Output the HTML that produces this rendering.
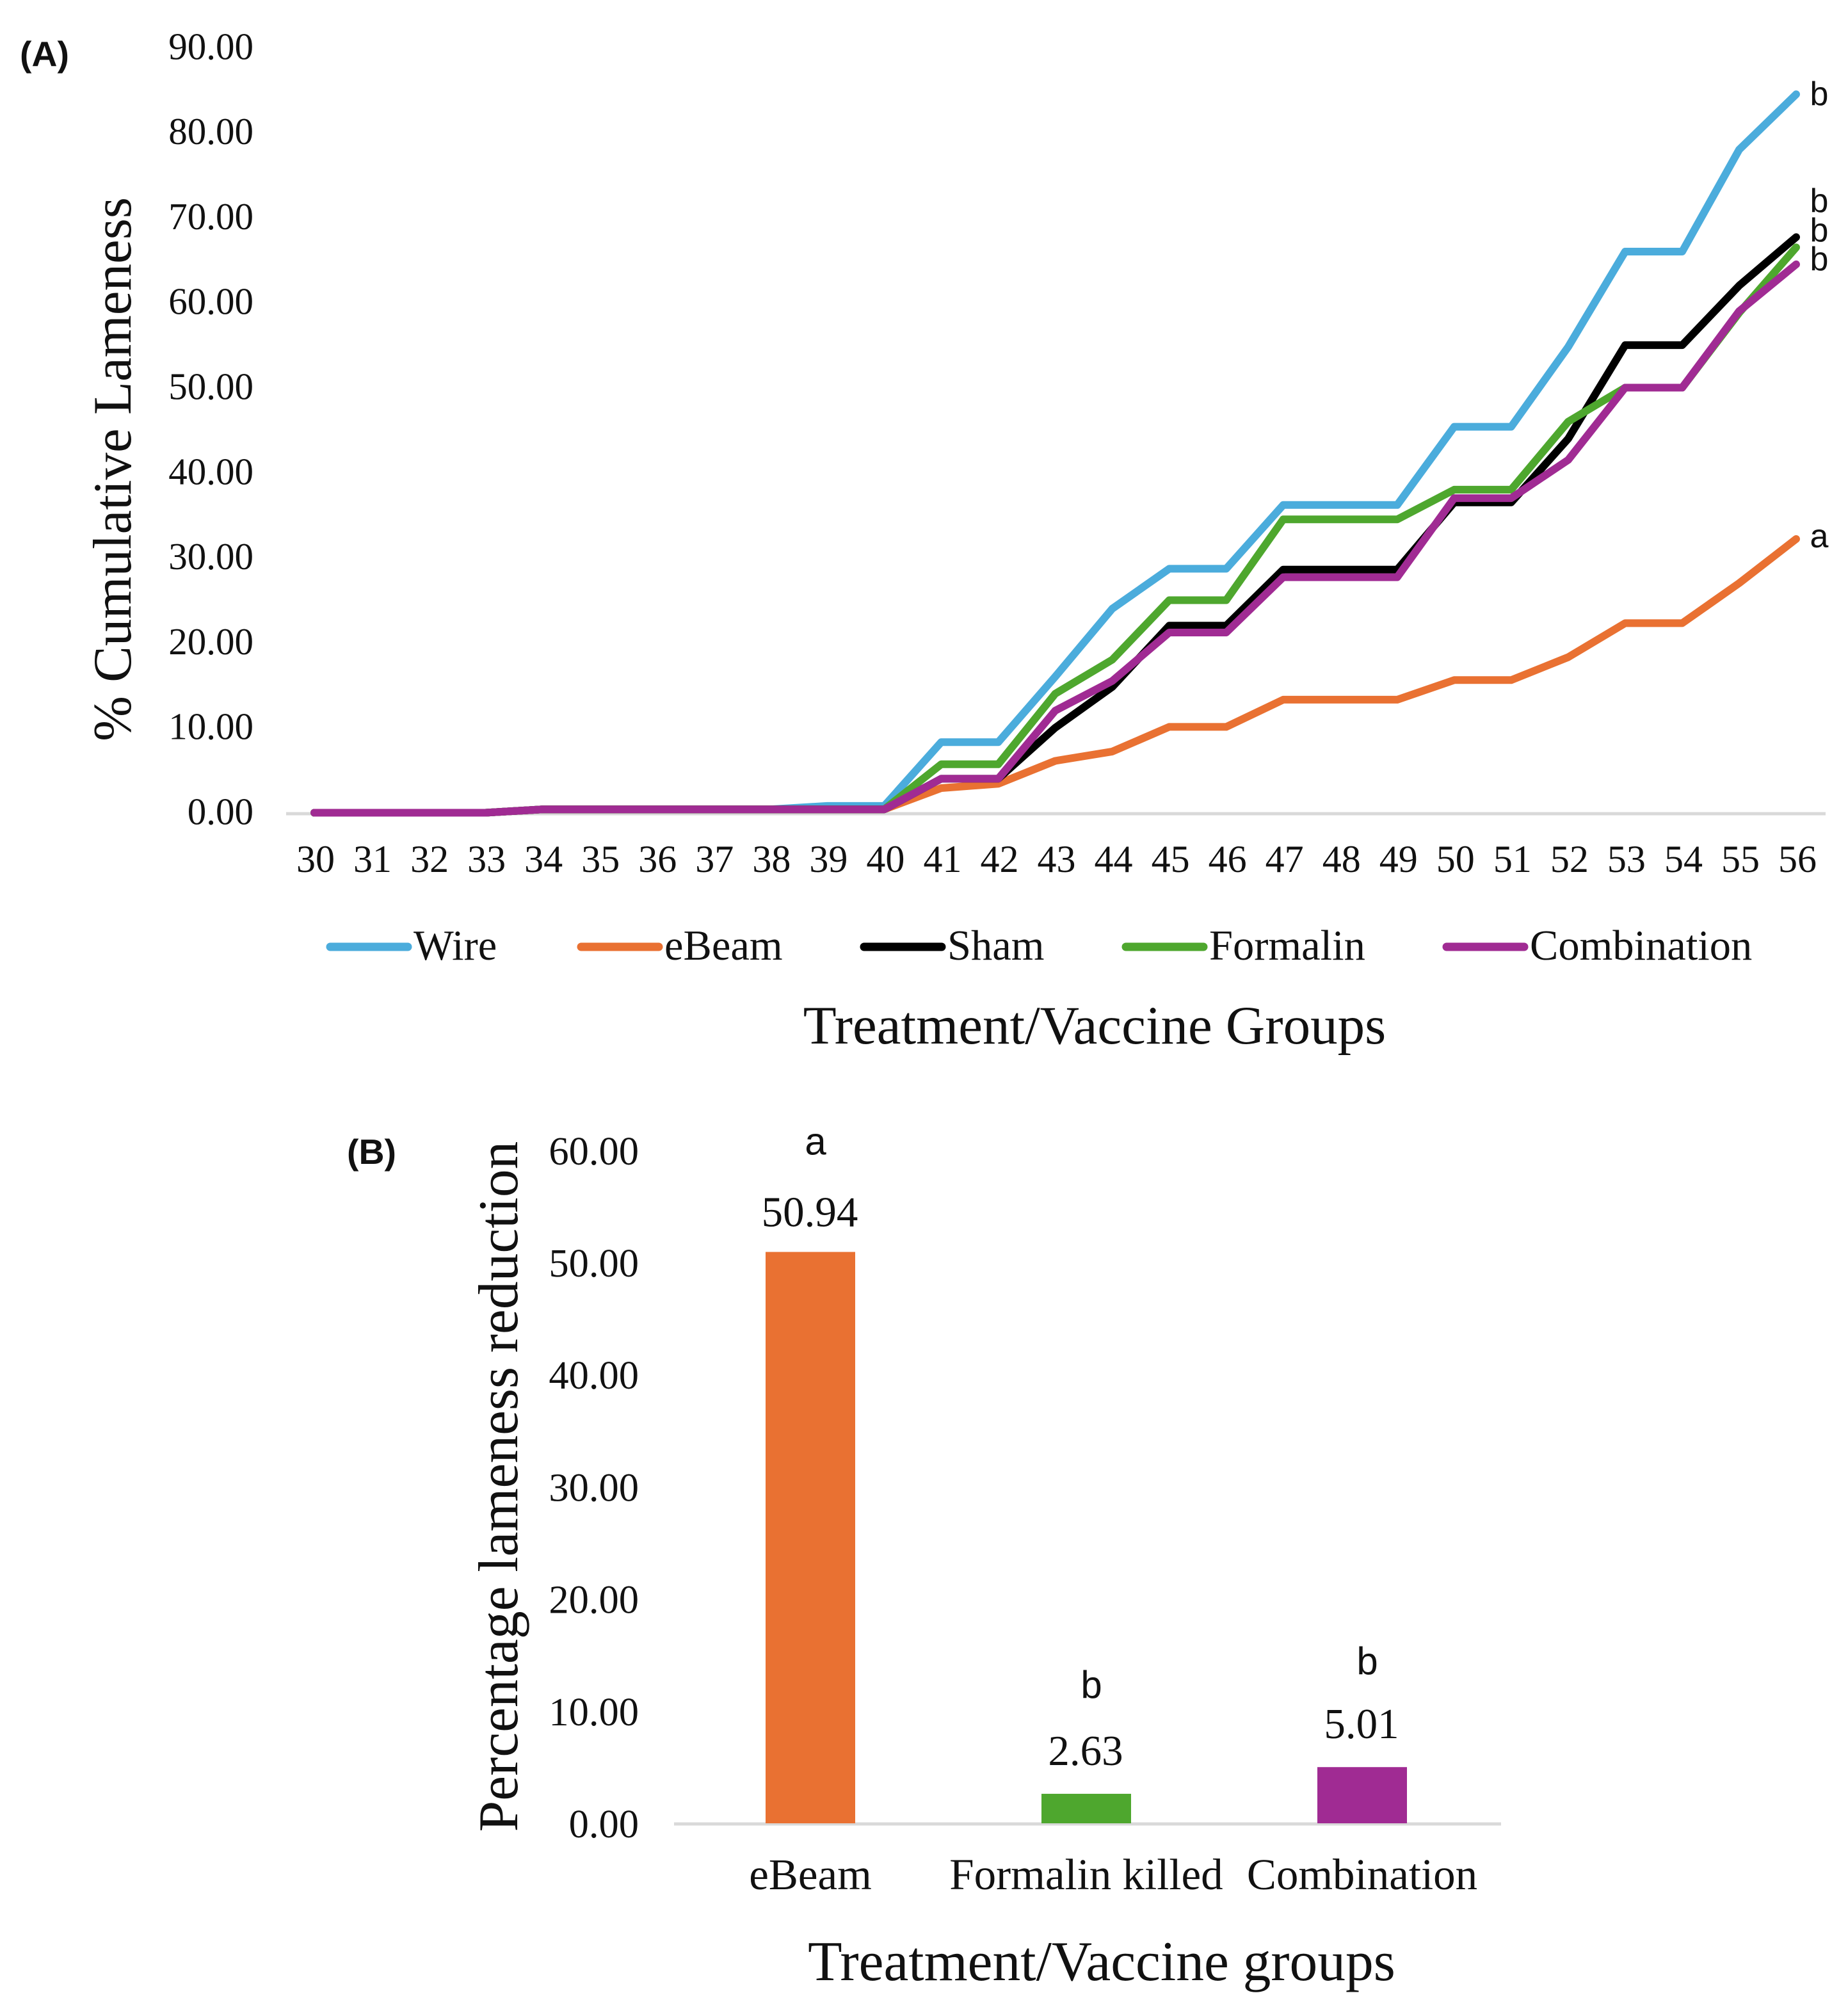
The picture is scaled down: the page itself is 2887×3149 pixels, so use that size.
<!DOCTYPE html>
<html lang="en">
<head>
<meta charset="utf-8">
<title>Cumulative lameness and lameness reduction charts</title>
<style>
html,body{margin:0;padding:0;background:#fff;}
svg{display:block;}
text{font-family:"Liberation Serif",serif;fill:#111;}
.sans{font-family:"Liberation Sans",sans-serif;}
</style>
</head>
<body>
<svg id="fig" xmlns="http://www.w3.org/2000/svg" width="2887" height="3149" viewBox="0 0 2887 3149">
  <rect width="2887" height="3149" fill="#fff"/>
  <text class="sans" x="31" y="103" font-size="55" font-weight="bold" textLength="77" lengthAdjust="spacingAndGlyphs">(A)</text>
  <text class="sans" x="542" y="1818" font-size="55" font-weight="bold" textLength="77" lengthAdjust="spacingAndGlyphs">(B)</text>
  <text transform="translate(204 733) rotate(-90)" text-anchor="middle" font-size="85">% Cumulative Lameness</text>
  <text x="1710" y="1630" text-anchor="middle" font-size="85">Treatment/Vaccine Groups</text>
  <text transform="translate(808 2322) rotate(-90)" text-anchor="middle" font-size="87.5">Percentage lameness reduction</text>
  <text x="1721" y="3093" text-anchor="middle" font-size="87.5">Treatment/Vaccine groups</text>
  <g id="chartA"></g>
  <g id="chartB"></g>
</svg>
<script>
// ---- Chart A data ----
var days = [30,31,32,33,34,35,36,37,38,39,40,41,42,43,44,45,46,47,48,49,50,51,52,53,54,55,56];
var yTicksA = ["0.00","10.00","20.00","30.00","40.00","50.00","60.00","70.00","80.00","90.00"];
var yTickValuesA = [0,10,20,30,40,50,60,70,80,90];
var wire = [0,0,0,0,0.4,0.4,0.4,0.4,0.4,0.8,0.8,8.3,8.3,16,24,28.7,28.7,36.2,36.2,36.2,45.4,45.4,54.8,66,66,78,84.5];
var eBeam = [0,0,0,0,0.4,0.4,0.4,0.4,0.4,0.4,0.4,2.9,3.4,6.1,7.2,10.1,10.1,13.3,13.3,13.3,15.6,15.6,18.3,22.3,22.3,27,32.2];
var sham = [0,0,0,0,0.4,0.4,0.4,0.4,0.4,0.4,0.4,4,4,10,14.8,22,22,28.6,28.6,28.6,36.5,36.5,44,55,55,62,67.7];
var formalin = [0,0,0,0,0.4,0.4,0.4,0.4,0.4,0.4,0.4,5.7,5.7,14,18,25,25,34.5,34.5,34.5,38,38,46,50,50,58.8,66.5];
var combination = [0,0,0,0,0.4,0.4,0.4,0.4,0.4,0.4,0.4,4,4,12,15.5,21.2,21.2,27.7,27.7,27.7,37,37,41.5,50,50,59,64.5];
var seriesNames = ["Wire","eBeam","Sham","Formalin","Combination"];
var endLetters = ["b","a","b","b","b"];

// ---- Chart B data ----
var groups = ["eBeam","Formalin killed","Combination"];
var reduction = [50.94,2.63,5.01];
var reductionLabels = ["50.94","2.63","5.01"];
var reductionLetters = ["a","b","b"];
var yTicksB = ["0.00","10.00","20.00","30.00","40.00","50.00","60.00"];
var yTickValuesB = [0,10,20,30,40,50,60];

var NS = "http://www.w3.org/2000/svg";
function make(parent, tag, attrs, txt) {
  var el = document.createElementNS(NS, tag);
  for (var k in attrs) el.setAttribute(k, attrs[k]);
  if (txt !== undefined) el.textContent = txt;
  parent.appendChild(el);
  return el;
}

// ---- Chart A ----
(function () {
  var g = document.getElementById("chartA");
  var seriesValues = [wire, eBeam, sham, formalin, combination];
  var colors = ["#4bacdc", "#e97132", "#000000", "#4ea72e", "#a02b93"];
  var x = function (d) { return 491 + (d - 30) * 89.04; };
  var y = function (v) { return 1269.5 - v * 13.28; };

  var axis = make(g, "line", {x1: 447, x2: 2852, y1: 1271, y2: 1271, stroke: "#d9d9d9", "stroke-width": 5});
  
  

  yTickValuesA.forEach(function (v, i) {
    var t = make(g, "text", {x: 396, y: y(v) + 18, "text-anchor": "end", "font-size": 59}, yTicksA[i]);
    
    
  });
  days.forEach(function (d) {
    var t = make(g, "text", {x: x(d) + 2, y: 1362, "text-anchor": "middle", "font-size": 60}, String(d));
    
    
  });

  seriesValues.forEach(function (vals, s) {
    var pts = vals.map(function (v, i) { return x(days[i]).toFixed(1) + "," + y(v).toFixed(1); }).join(" ");
    var line = make(g, "polyline", {points: pts, fill: "none", stroke: colors[s], "stroke-width": 12, "stroke-linejoin": "round", "stroke-linecap": "round"});
    
    
  });

  var letterBaselines = [164, 855, 377, 331, 422];
  seriesValues.forEach(function (vals, s) {
    var t = make(g, "text", {"class": "sans", x: 2842, y: letterBaselines[s], "text-anchor": "middle", "font-size": 52}, endLetters[s]);
    
    
  });

  var keyX = [510, 902, 1344, 1753, 2254];
  seriesNames.forEach(function (name, s) {
    var k = make(g, "line", {x1: keyX[s] + 6, x2: keyX[s] + 127, y1: 1479, y2: 1479, stroke: colors[s], "stroke-width": 13, "stroke-linecap": "round"});
    
    
    var t = make(g, "text", {x: keyX[s] + 136, y: 1499, "font-size": 66.5}, name);
    
    
  });
})();

// ---- Chart B ----
(function () {
  var g = document.getElementById("chartB");
  var barColors = ["#e97132", "#4ea72e", "#a02b93"];
  var valueGaps = [40, 45, 45];
  var letterGaps = [152, 150, 145];
  var x = function (i) { return 1266 + i * 431; };
  var y = function (v) { return 2848 - v * 17.52; };

  var axis = make(g, "line", {x1: 1053, x2: 2345, y1: 2849, y2: 2849, stroke: "#d9d9d9", "stroke-width": 5});
  
  

  yTickValuesB.forEach(function (v, i) {
    var t = make(g, "text", {x: 998, y: y(v) + 22, "text-anchor": "end", "font-size": 62.5}, yTicksB[i]);
    
    
  });

  groups.forEach(function (name, i) {
    var b = make(g, "rect", {x: x(i) - 70, y: y(reduction[i]), width: 140, height: y(0) - y(reduction[i]), fill: barColors[i]});
    
    
    var lab = make(g, "text", {x: x(i) - 1, y: y(reduction[i]) - valueGaps[i], "text-anchor": "middle", "font-size": 67}, reductionLabels[i]);
    
    
    var let_ = make(g, "text", {"class": "sans", x: x(i) + 8, y: y(reduction[i]) - letterGaps[i], "text-anchor": "middle", "font-size": 60}, reductionLetters[i]);
    
    
    var cat = make(g, "text", {x: x(i), y: 2951, "text-anchor": "middle", "font-size": 69}, name);
    
    
  });
})();
</script>
</body>
</html>
